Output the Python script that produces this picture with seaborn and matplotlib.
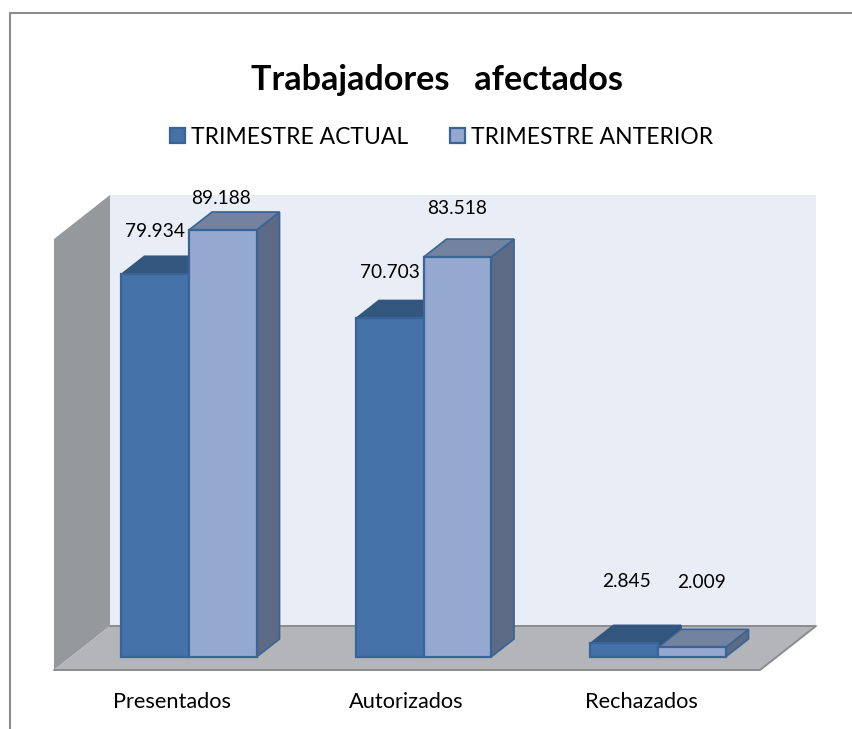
import pandas as pd
import matplotlib
matplotlib.use("Agg")
import matplotlib.pyplot as plt
import seaborn as sns
from matplotlib.lines import Line2D
from matplotlib.patches import Polygon
from matplotlib.transforms import ScaledTranslation

categorias = ["Presentados", "Autorizados", "Rechazados"]
series = ["TRIMESTRE ACTUAL", "TRIMESTRE ANTERIOR"]
actual = [79934, 70703, 2845]
anterior = [89188, 83518, 2009]
titulo = "Trabajadores   afectados"

# how far each value label sits from the top centre of its bar, in pixels
offset_actual = [(0, 43), (0, 46), (2, 62)]
offset_anterior = [(-2, 31), (0, 49), (10, 65)]

# colours: front, side, top, edge of top/side
col_actual = ("#4472A9", "#2F4F78", "#33567F", "#33567F")
col_anterior = ("#95A9D0", "#5C6A85", "#72829F", "#3A6496")
col_borde = "#3A6496"

W, H = 852, 729

sns.set_style("white")
plt.rcParams["font.family"] = ["Lato", "DejaVu Sans"]

df = pd.DataFrame({
    "categoria": categorias * 2,
    "serie": [series[0]] * 3 + [series[1]] * 3,
    "valor": actual + anterior,
})

fig = plt.figure(figsize=(W / 100, H / 100), dpi=100, facecolor="white")
# front plane of the chart box, in pixels: x 54-760, y 195-670
ax = fig.add_axes([54 / W, 1 - 670 / H, 706 / W, 475 / H])
ax.patch.set_alpha(0)

sns.barplot(data=df, x="categoria", y="valor", hue="serie", ax=ax,
            palette=[col_actual[0], col_anterior[0]], saturation=1,
            width=0.576, gap=0, edgecolor=col_borde, linewidth=1.6)

px_x = 234.5         # pixels per category
px_y = 0.004788      # pixels per worker
x0, x1 = -135 / px_x, 571 / px_x
y0, y1 = -13 / px_y, 462 / px_y
ax.set_xlim(x0, x1)
ax.set_ylim(y0, y1)

# depth of the box and of the bars, in data units
caja_x, caja_y = 56 / px_x, 44 / px_y
barra_x, barra_y = 23 / px_x, 18 / px_y


def poligono(puntos, color, z, borde="none", lw=0):
    ax.add_patch(Polygon(puntos, closed=True, facecolor=color, edgecolor=borde,
                         linewidth=lw, zorder=z, clip_on=False))


# back wall, left wall, floor
poligono([(x0 + caja_x, y0 + caja_y), (x1 + caja_x, y0 + caja_y),
          (x1 + caja_x, y1), (x0 + caja_x, y1)], "#E9EDF6", 0.1)
poligono([(x0, y0), (x0 + caja_x, y0 + caja_y), (x0 + caja_x, y1), (x0, y1 - caja_y)],
         "#96999C", 0.2)
poligono([(x0, y0), (x0 + caja_x, y0 + caja_y), (x1 + caja_x, y0 + caja_y), (x1, y0)],
         "#B3B5B8", 0.3)
ax.plot([x0 + caja_x, x1 + caja_x, x1, x0], [y0 + caja_y, y0 + caja_y, y0, y0],
        color="#8C8C8C", lw=1.4, zorder=0.4, clip_on=False)

# fake 3d on top of the bars that seaborn drew
for n, (cont, cols, offs) in enumerate(zip(ax.containers, [col_actual, col_anterior],
                                           [offset_actual, offset_anterior])):
    z = 3 + 2 * n
    for bar, off in zip(cont, offs):
        bar.set_zorder(z + 1)
        a, b = bar.get_x(), bar.get_x() + bar.get_width()
        h = bar.get_height()
        poligono([(b, 0), (b + barra_x, barra_y), (b + barra_x, h + barra_y), (b, h)],
                 cols[1], z, cols[3], 1.2)
        poligono([(a, h), (b, h), (b + barra_x, h + barra_y), (a + barra_x, h + barra_y)],
                 cols[2], z, cols[3], 1.2)
        ax.annotate(f"{int(h):,}".replace(",", "."), ((a + b) / 2, h),
                    xytext=off, textcoords="offset pixels", ha="center", va="center",
                    fontsize=13.8, color="black", zorder=10, annotation_clip=False)

ax.set_xlabel("")
ax.set_ylabel("")
ax.set_yticks([])
ax.tick_params(axis="x", length=0, pad=16, labelsize=15.7, labelcolor="black")
sns.despine(ax=ax, left=True, bottom=True)

# the category names sit left of the bar pairs
for lab in ax.get_xticklabels():
    lab.set_transform(lab.get_transform() + ScaledTranslation(-17 / 100, 0, fig.dpi_scale_trans))

sns.move_legend(ax, "center", bbox_to_anchor=(441.5 / W, 1 - 137 / H),
                bbox_transform=fig.transFigure, ncol=2, frameon=False, title=None,
                fontsize=16.5, handlelength=0.65, handleheight=0.65, handletextpad=0.27,
                columnspacing=1.83, labelcolor="black")

fig.suptitle(titulo, x=437 / W, y=1 - 80 / H, va="center", fontsize=24.6, fontweight="bold",
             color="black")

# outer frame of the pasted picture: only top and left show
fig.add_artist(Line2D([10 / W, 10 / W, 1], [0, 1 - 13 / H, 1 - 13 / H], color="#8C8C8C", lw=1.5))

fig.savefig("out.png", dpi=100)
